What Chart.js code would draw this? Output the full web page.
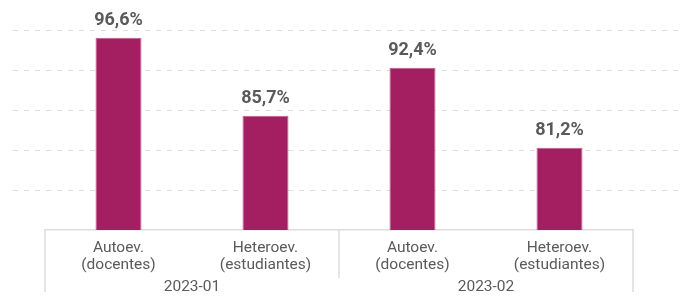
<!DOCTYPE html>
<html>
<head>
    <title>Autoevaluación y heteroevaluación</title>
    <script src="https://cdn.jsdelivr.net/npm/chart.js@4/dist/chart.umd.min.js"></script>
    <style>
        html, body { margin: 0; padding: 0; background: #fff; }
        #wrap { width: 689px; height: 296px; }
    </style>
</head>
<body>
<div id="wrap">
    <canvas id="barChartCanvas" width="689" height="296"></canvas>
</div>
<script>

const categories = [
    ['Autoev.', '(docentes)'],
    ['Heteroev.', '(estudiantes)'],
    ['Autoev.', '(docentes)'],
    ['Heteroev.', '(estudiantes)']
];
const periods = ['2023-01', '2023-02'];
const values = [96.6, 85.7, 92.4, 81.2];

const FONT = "'Roboto', sans-serif";
const TEXT = '#5a5a5a';
const LINE = '#dddddd';

// dashed grid spanning the full width, from the y scale
const gridPlugin = {
    id: 'wideGrid',
    beforeDatasetsDraw(chart) {
        const y = chart.scales.y;
        const ctx = chart.ctx;
        ctx.save();
        ctx.strokeStyle = LINE;
        ctx.lineWidth = 1;
        ctx.setLineDash([5, 6]);
        for (let v = y.max; v > y.min + 0.01; v -= 5.6) {
            const py = Math.round(y.getPixelForValue(v)) + 0.5;
            ctx.beginPath();
            ctx.moveTo(13, py);
            ctx.lineTo(680, py);
            ctx.stroke();
        }
        ctx.restore();
    }
};

// group separators under the x axis + value labels
const labelPlugin = {
    id: 'labels',
    afterDatasetsDraw(chart) {
        const ctx = chart.ctx;
        const x = chart.scales.x;
        const area = chart.chartArea;
        ctx.save();
        ctx.strokeStyle = LINE;
        ctx.lineWidth = 1.5;
        const seps = [
            [x.left, 292], [(x.getPixelForValue(1) + x.getPixelForValue(2)) / 2, 278], [x.right, 292]
        ];
        seps.forEach(([px, bottom]) => {
            ctx.beginPath();
            ctx.moveTo(px, area.bottom);
            ctx.lineTo(px, bottom);
            ctx.stroke();
        });

        ctx.fillStyle = TEXT;
        ctx.font = 'bold 18px ' + FONT;
        ctx.textAlign = 'center';
        ctx.textBaseline = 'alphabetic';
        const meta = chart.getDatasetMeta(0);
        meta.data.forEach((bar, i) => {
            const txt = values[i].toFixed(1).replace('.', ',') + '%';
            ctx.fillText(txt, bar.x, bar.y - 13);
        });
        ctx.restore();
    }
};

const barCtx = document.getElementById('barChartCanvas').getContext('2d');

const myBarChart = new Chart(barCtx, {
    type: 'bar',
    data: {
        labels: categories,
        datasets: [{
            data: values,
            backgroundColor: '#a31f61',
            borderColor: '#c4598b',
            borderWidth: 1,
            categoryPercentage: 1,
            barPercentage: 0.313
        }]
    },
    options: {
        responsive: false,
        animation: false,
        layout: { padding: { left: 45, right: 56, top: 30, bottom: 0 } },
        plugins: {
            legend: { display: false },
            tooltip: { enabled: false }
        },
        scales: {
            y: {
                display: false,
                min: 69.7,
                max: 97.7
            },
            x: {
                grid: { display: false, drawTicks: false },
                border: { display: true, color: LINE, width: 1.5 },
                ticks: {
                    color: TEXT,
                    font: { family: FONT, size: 15.5, lineHeight: 1.1 },
                    padding: 10,
                    maxRotation: 0
                },
                afterFit(scale) { scale.height = 44; }
            },
            x2: {
                type: 'category',
                labels: periods,
                position: 'bottom',
                offset: true,
                grid: { display: false, drawTicks: false },
                border: { display: false },
                ticks: {
                    color: TEXT,
                    font: { family: FONT, size: 15.5, lineHeight: 1.2 },
                    padding: 4
                },
                afterFit(scale) { scale.height = 22; }
            }
        }
    },
    plugins: [gridPlugin, labelPlugin]
});

</script>
</body>
</html>
